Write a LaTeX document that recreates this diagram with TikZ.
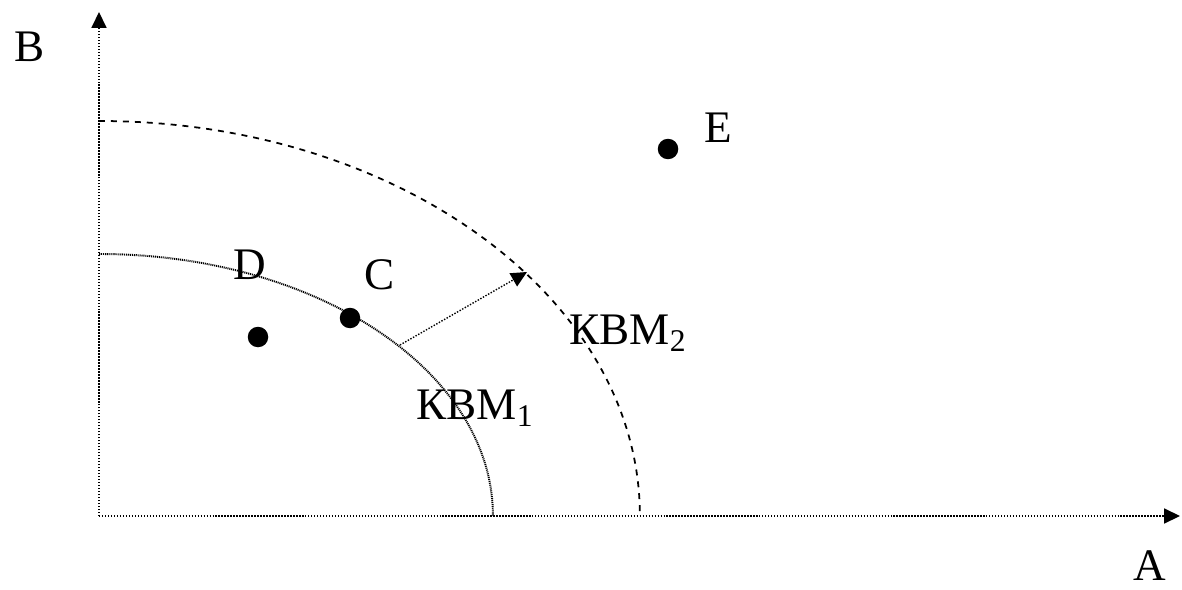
\documentclass[tikz,border=0pt]{standalone}
\usepackage{fontspec}
\setmainfont{Liberation Serif}
\usetikzlibrary{arrows.meta}
\tikzset{
  axisline/.style={line width=0.8pt, dash pattern=on 0.8pt off 0.9pt, -{Triangle[length=9pt,width=8.5pt]}},
  curveone/.style={line width=1.1pt, dash pattern=on 0.6pt off 0.5pt},
  curvetwo/.style={line width=1pt, dash pattern=on 3.4pt off 3.4pt},
  bundle/.style={circle, fill=black, inner sep=0pt, minimum size=0.41cm},
  lbl/.style={font=\fontsize{25.7}{30}\selectfont, inner sep=0pt}
}
\begin{document}
\begin{tikzpicture}[x=0.02cm, y=0.02cm]
            \useasboundingbox (0,0) rectangle (1182,589);

            % Axes (dotted)
            \coordinate (origin) at (99,73);
            \coordinate (xend) at (1180,73);
            \coordinate (yend) at (99,577);
            \draw [axisline] (origin) -- (xend);
            \draw [axisline] (origin) -- (yend);
            \node [lbl] (labA) at (1150,23) {A};
            \node [lbl] (labB) at (30,542) {B};

            % Inner curve (fine dots)
            \draw [curveone] (99,335) arc [start angle=90, end angle=0, x radius=7.88cm, y radius=5.24cm];
            \node [lbl] (kvm1) at (475,181) {КВМ\textsubscript{1}};

            % Outer curve (dashed)
            \draw [curvetwo] (99,468) arc [start angle=90, end angle=0, x radius=10.82cm, y radius=7.90cm];
            \node [lbl] (kvm2) at (628,256) {КВМ\textsubscript{2}};

            % Shift arrow
            \coordinate (shiftstart) at (400,244);
            \coordinate (shiftend) at (527,317);
            \draw [axisline] (shiftstart) -- (shiftend);

            % Bundles
            \node [bundle] (ptD) at (258,252) {};
            \node [bundle] (ptC) at (350,271) {};
            \node [bundle] (ptE) at (668,440) {};
            \node [lbl] (labD) at (250,324) {D};
            \node [lbl] (labC) at (380,314) {C};
            \node [lbl] (labE) at (718,461) {E};
        \end{tikzpicture}
\end{document}
